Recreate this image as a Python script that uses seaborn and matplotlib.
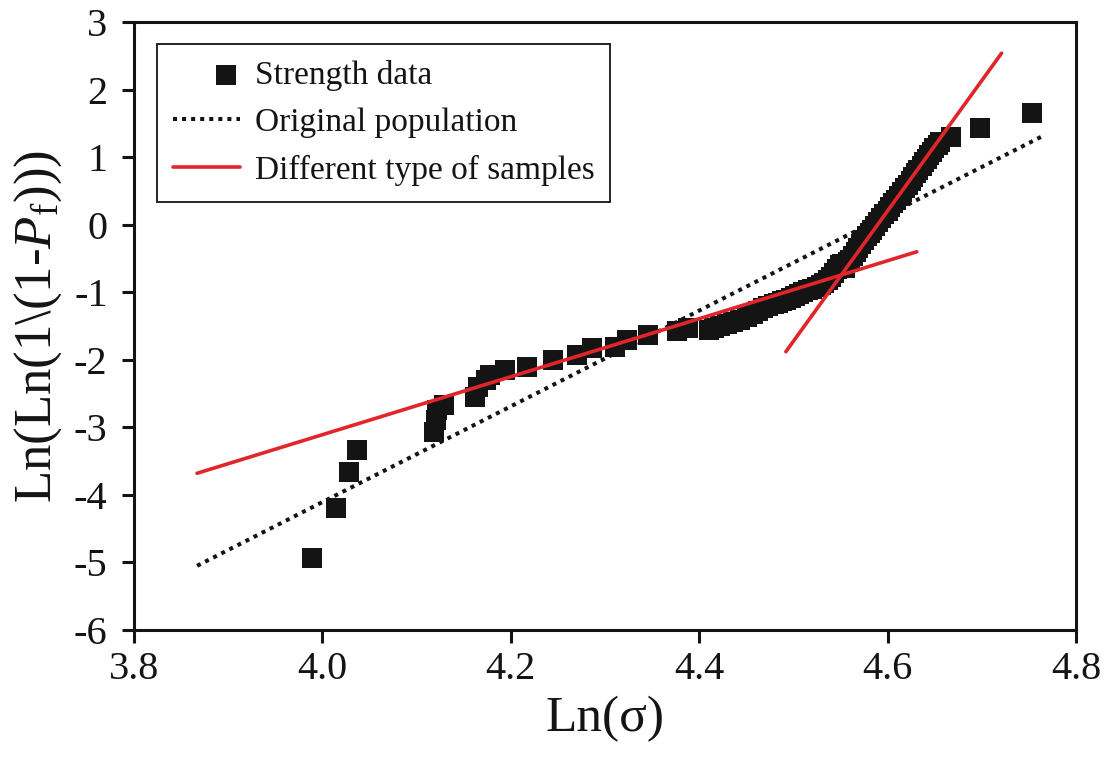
import matplotlib
matplotlib.use("Agg")
import matplotlib.pyplot as plt
from matplotlib.legend_handler import HandlerPathCollection
from matplotlib.collections import PathCollection
import seaborn as sns
import pandas as pd

# ---------------- data ----------------
x_ticks = [3.8, 4.0, 4.2, 4.4, 4.6, 4.8]
x_tick_labels = ["3.8", "4.0", "4.2", "4.4", "4.6", "4.8"]
y_ticks = [-6, -5, -4, -3, -2, -1, 0, 1, 2, 3]
y_tick_labels = ["-6", "-5", "-4", "-3", "-2", "-1", "0", "1", "2", "3"]

ln_sigma = [3.989, 4.014, 4.028, 4.037,
            4.118, 4.121, 4.122, 4.129,
            4.162, 4.165, 4.174, 4.178, 4.194, 4.217,
            4.245, 4.270, 4.286, 4.311, 4.323, 4.346, 4.376, 4.388,
            4.410, 4.416, 4.422, 4.429, 4.436, 4.443, 4.451, 4.457, 4.462,
            4.468, 4.473, 4.479, 4.484, 4.488, 4.492, 4.497, 4.502, 4.506,
            4.510, 4.515, 4.520, 4.525, 4.529, 4.533, 4.537, 4.540, 4.543,
            4.546, 4.549, 4.552, 4.555, 4.558, 4.560, 4.563, 4.566, 4.569,
            4.572, 4.575, 4.578, 4.581, 4.583, 4.587, 4.590, 4.593, 4.596,
            4.600, 4.603, 4.606, 4.609, 4.612, 4.615, 4.619, 4.622, 4.625,
            4.627, 4.630, 4.632, 4.636, 4.639, 4.642, 4.644, 4.647, 4.649,
            4.653, 4.656, 4.667, 4.698, 4.753]
ln_ln = [-4.93, -4.19, -3.66, -3.34,
         -3.07, -2.89, -2.74, -2.67,
         -2.55, -2.40, -2.30, -2.23, -2.15, -2.11,
         -2.00, -1.93, -1.83, -1.81, -1.71, -1.63, -1.57, -1.53,
         -1.56, -1.53, -1.50, -1.47, -1.44, -1.41, -1.37, -1.32, -1.28,
         -1.24, -1.20, -1.18, -1.16, -1.13, -1.11, -1.08, -1.06, -1.03,
         -1.00, -0.97, -0.95, -0.92, -0.89, -0.86, -0.82, -0.77, -0.72,
         -0.66, -0.60, -0.58, -0.64, -0.55, -0.52, -0.46, -0.40, -0.35,
         -0.29, -0.23, -0.17, -0.12, -0.08, -0.02, 0.04, 0.10, 0.16,
         0.21, 0.26, 0.32, 0.37, 0.43, 0.48, 0.54, 0.59, 0.65,
         0.71, 0.76, 0.81, 0.87, 0.93, 0.98, 1.03, 1.08, 1.13,
         1.18, 1.22, 1.30, 1.43, 1.65]

orig_x = [3.867, 4.767]
orig_y = [-5.05, 1.33]
fit_low_x = [3.867, 4.631]
fit_low_y = [-3.68, -0.40]
fit_high_x = [4.492, 4.721]
fit_high_y = [-1.88, 2.54]

# ---------------- style ----------------
sns.set_theme(style="ticks")
plt.rcParams["font.family"] = ["Liberation Serif", "DejaVu Serif"]
plt.rcParams["mathtext.fontset"] = "custom"
plt.rcParams["mathtext.rm"] = "Liberation Serif"
plt.rcParams["mathtext.it"] = "Liberation Serif:italic"

fig = plt.figure(figsize=(11.07, 7.57), dpi=100)
ax = fig.add_axes([0.121, 0.1678, 0.851, 0.803])

dark = "#141414"
red = "#e0262a"

df = pd.DataFrame({"x": ln_sigma, "y": ln_ln})
sns.lineplot(x=orig_x, y=orig_y, ax=ax, color=dark, linewidth=2.9,
             linestyle=(0, (1.0, 1.25)), label="Original population", zorder=2)
sns.scatterplot(data=df, x="x", y="y", ax=ax, marker="s", s=200, color=dark,
                linewidth=0, label="Strength data", zorder=3)
sns.lineplot(x=fit_low_x, y=fit_low_y, ax=ax, color=red, linewidth=2.6,
             label="Different type of samples", zorder=4)
sns.lineplot(x=fit_high_x, y=fit_high_y, ax=ax, color=red, linewidth=2.6,
             zorder=4)

ax.set_xlim(3.8, 4.8)
ax.set_ylim(-6, 3)
ax.set_xticks(x_ticks)
ax.set_xticklabels(x_tick_labels)
ax.set_yticks(y_ticks)
ax.set_yticklabels(y_tick_labels)
ax.tick_params(axis="both", direction="out", length=9, width=2.2,
               labelsize=29, color=dark, labelcolor=dark)
ax.tick_params(axis="x", pad=6)
ax.tick_params(axis="y", pad=10)
for sp in ax.spines.values():
    sp.set_linewidth(2.2)
    sp.set_color(dark)
    sp.set_visible(True)

ax.set_xlabel(r"Ln(σ)", fontsize=37, color=dark)
ax.set_ylabel(r"Ln(Ln(1\(1-$P_{\mathrm{f}}$)))", fontsize=38, color=dark)
ax.xaxis.set_label_coords(0.5, -0.108)
ax.yaxis.set_label_coords(-0.074, 0.5)


class RightMarkerHandler(HandlerPathCollection):
    def get_xdata(self, legend, xdescent, ydescent, width, height, fontsize):
        xd = [-xdescent + 0.8 * width]
        return xd, xd


handles, labels = ax.get_legend_handles_labels()
order = [labels.index("Strength data"), labels.index("Original population"),
         labels.index("Different type of samples")]
leg = ax.legend([handles[i] for i in order], [labels[i] for i in order],
                loc="upper left", bbox_to_anchor=(0.0244, 0.964),
                borderaxespad=0, fontsize=24, frameon=True, fancybox=False,
                edgecolor=dark, framealpha=1, handlelength=2.0,
                handletextpad=0.45, labelspacing=0.5, borderpad=0.48,
                handler_map={PathCollection: RightMarkerHandler(numpoints=1)})
leg.get_frame().set_linewidth(1.3)
for t in leg.get_texts():
    t.set_color(dark)

fig.savefig("out.png", dpi=100)
